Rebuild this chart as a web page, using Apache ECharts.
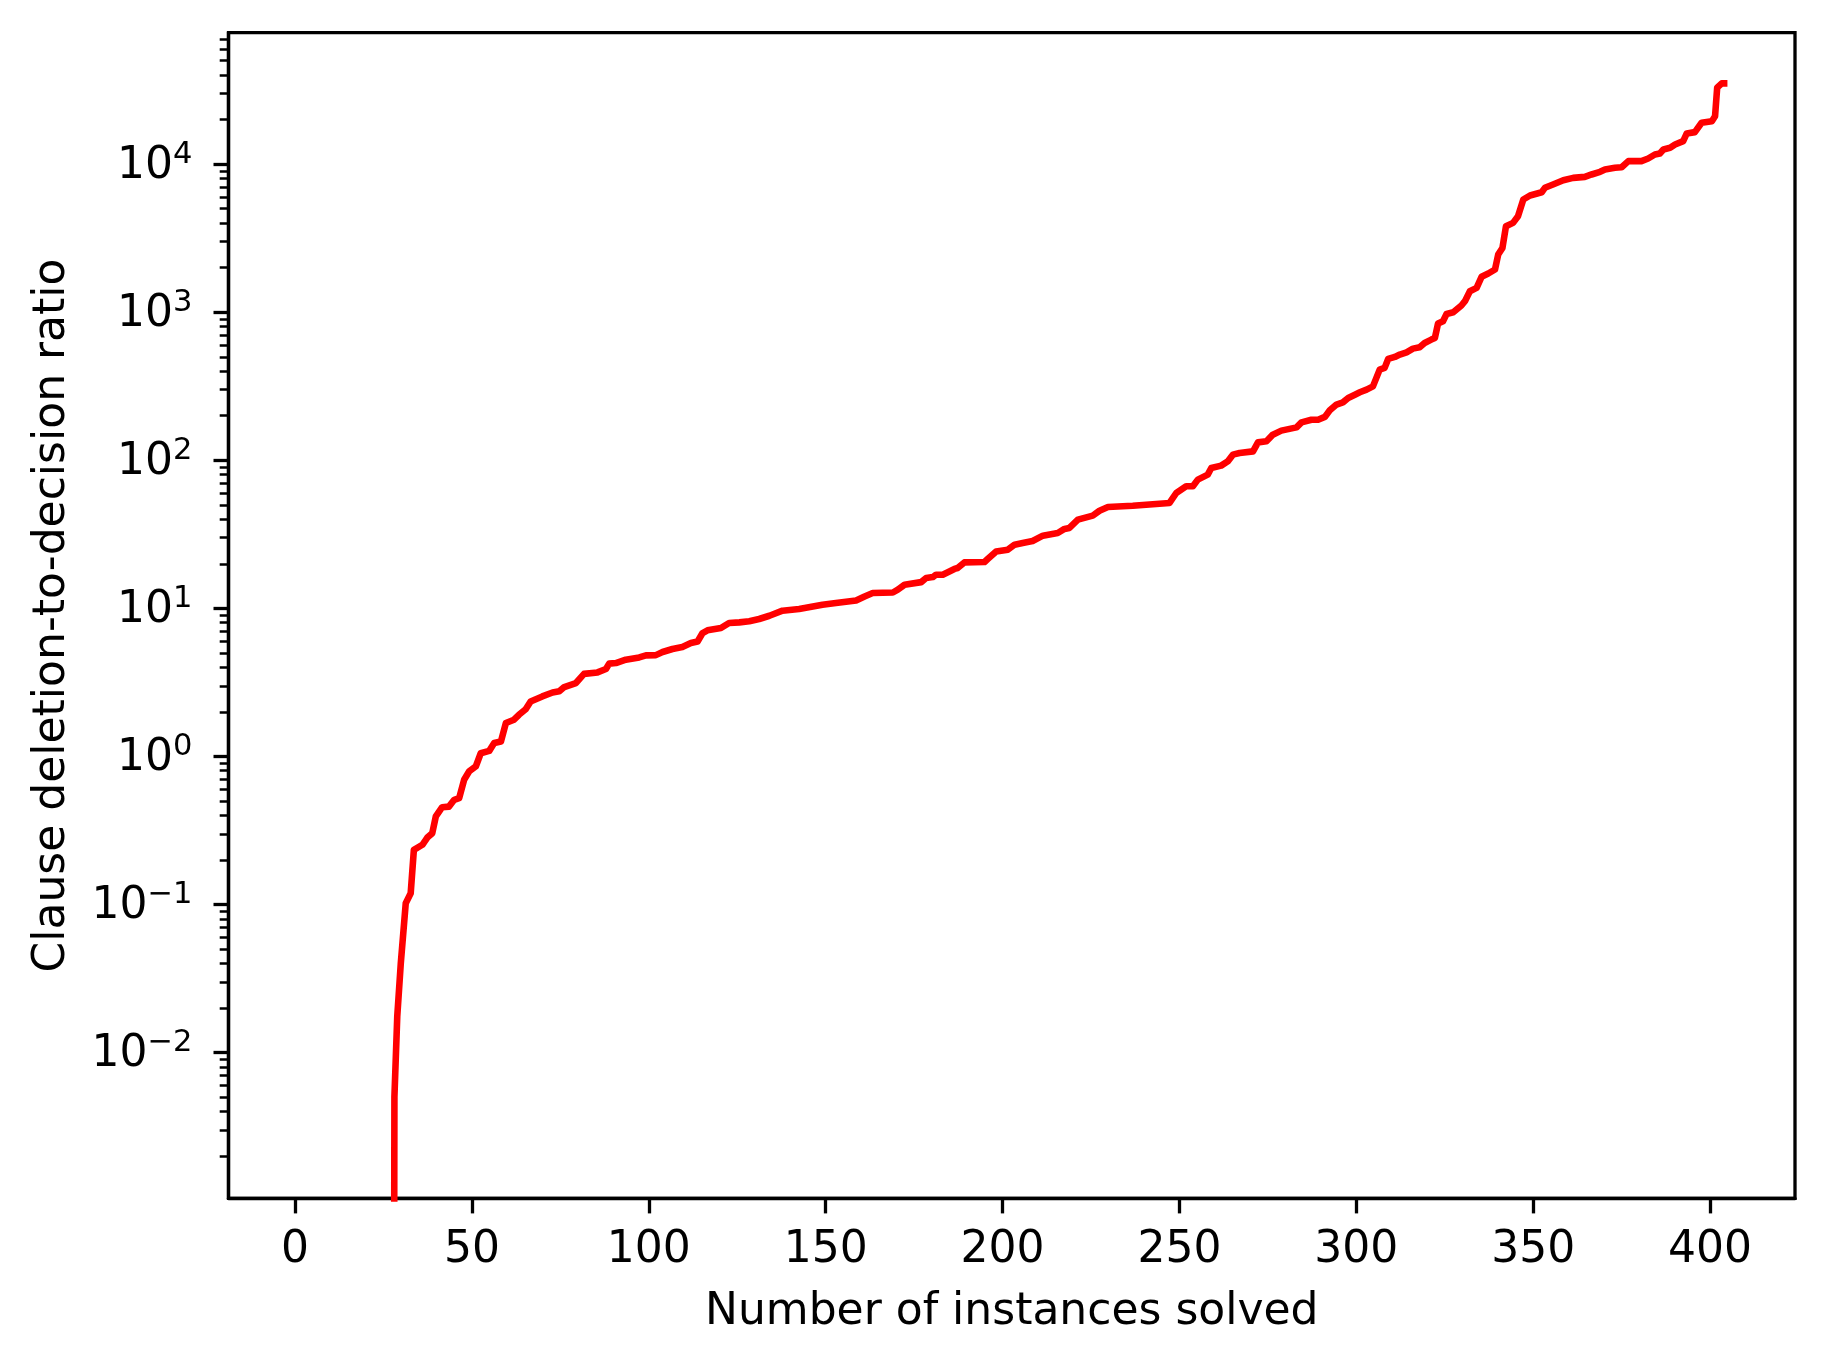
<!DOCTYPE html>
<html>
<head>
<meta charset="utf-8">
<script src="https://cdn.jsdelivr.net/npm/echarts@6/dist/echarts.min.js"></script>
<style>
  html, body { margin: 0; padding: 0; background: #fff; }
  #ratio_chart { width: 1828px; height: 1365px; }
</style>
</head>
<body>
<div id="ratio_chart"></div>
<script>
// instances solved (x) and clause deletion-to-decision ratio (y)
var instancesSolved = [
  28.0, 28.1, 28.9, 29.9, 31.3, 32.7, 33.6, 36.0, 37.4, 38.8, 39.8, 41.6, 43.5, 45.0, 46.4,
  47.8, 49.2, 51.1, 52.5, 54.9, 56.3, 58.2, 59.6, 61.9, 63.3, 65.2, 66.6, 67.1, 69.9, 72.8,
  74.7, 76.1, 79.4, 81.7, 85.5, 87.9, 88.8, 90.7, 93.5, 97.3, 99.2, 102.0, 103.9, 106.7, 109.5,
  111.9, 113.8, 115.2, 116.6, 120.4, 122.7, 125.6, 128.4, 131.2, 134.1, 137.8, 142.5, 149.1, 152.9,
  158.6, 161.0, 163.3, 169.0, 170.4, 172.3, 177.0, 178.4, 180.3, 181.2, 183.1, 186.4, 187.3, 189.2,
  194.9, 195.8, 198.2, 201.5, 203.4, 205.7, 208.5, 211.4, 215.6, 217.5, 218.9, 221.3, 225.5, 227.4,
  229.8, 236.8, 247.2, 249.1, 251.9, 253.8, 255.2, 258.0, 259.0, 261.8, 263.7, 265.1, 267.0, 270.8,
  272.2, 274.6, 276.4, 278.8, 283.1, 284.5, 287.3, 289.2, 291.1, 292.5, 294.4, 296.2, 297.7, 299.6,
  301.0, 302.9, 304.7, 306.6, 308.0, 309.0, 310.9, 312.3, 314.2, 316.0, 317.9, 319.3, 321.2, 322.2,
  323.1, 324.5, 325.5, 327.4, 329.7, 330.7, 332.1, 334.0, 335.4, 337.3, 339.2, 340.1, 341.3, 342.3,
  344.3, 345.7, 347.2, 349.1, 352.4, 353.3, 355.6, 358.5, 361.3, 364.6, 366.5, 368.9, 370.3, 373.1,
  375.0, 376.9, 380.6, 382.5, 384.4, 385.8, 386.8, 388.7, 390.1, 392.4, 393.4, 395.7, 397.6, 400.5,
  401.4, 402.0, 403.3, 404.9
];
var deletionRatio = [
  0.0002, 0.005, 0.0175, 0.040, 0.102, 0.119, 0.234, 0.253, 0.283, 0.303, 0.393, 0.454, 0.458, 0.509, 0.522,
  0.695, 0.791, 0.855, 1.05, 1.09, 1.23, 1.26, 1.68, 1.77, 1.91, 2.08, 2.35, 2.41, 2.54, 2.70,
  2.75, 2.94, 3.13, 3.61, 3.69, 3.89, 4.23, 4.27, 4.50, 4.66, 4.81, 4.83, 5.07, 5.31, 5.48,
  5.83, 5.97, 6.81, 7.10, 7.36, 7.96, 8.04, 8.17, 8.47, 8.91, 9.64, 9.89, 10.57, 10.86,
  11.30, 12.02, 12.68, 12.79, 13.37, 14.42, 15.03, 16.03, 16.26, 16.87, 16.87, 18.45, 18.71, 20.42,
  20.56, 21.53, 24.21, 24.89, 26.92, 27.61, 28.51, 30.97, 32.28, 34.36, 34.91, 39.72, 42.27, 45.6,
  48.3, 49.3, 51.5, 60.1, 66.7, 66.7, 74.0, 80.0, 88.7, 92.0, 98.4, 109.1, 111.9, 114.8,
  132.1, 134.3, 148.9, 158.5, 166.7, 180.3, 187.9, 187.9, 196.3, 217.3, 237.7, 246.0, 263.6, 277.3,
  287.7, 299.9, 315.5, 409.3, 420.7, 483.1, 498.9, 517.6, 535.8, 567.5, 579.4, 619.4, 653.1, 669.9,
  837.5, 869.0, 972.9, 997.7, 1109, 1186, 1384, 1459, 1734, 1824, 1941, 2449, 2716, 3802,
  4009, 4446, 5768, 6138, 6457, 6918, 7278, 7780, 8072, 8204, 8511, 8872, 9204, 9441,
  9528, 10471, 10471, 10914, 11614, 11803, 12560, 12882, 13552, 14289, 16106, 16444, 19011, 19498,
  21086, 32810, 35075, 35075
];

var xTicks = [0, 50, 100, 150, 200, 250, 300, 350, 400];
var yMajorTicks = [0.01, 0.1, 1, 10, 100, 1000, 10000];
var yMinorTicks = [
  0.002, 0.003, 0.004, 0.005, 0.006, 0.007, 0.008, 0.009,
  0.02, 0.03, 0.04, 0.05, 0.06, 0.07, 0.08, 0.09,
  0.2, 0.3, 0.4, 0.5, 0.6, 0.7, 0.8, 0.9,
  2, 3, 4, 5, 6, 7, 8, 9,
  20, 30, 40, 50, 60, 70, 80, 90,
  200, 300, 400, 500, 600, 700, 800, 900,
  2000, 3000, 4000, 5000, 6000, 7000, 8000, 9000,
  20000, 30000, 40000, 50000, 60000, 70000
];

var FONT = 'DejaVu Sans';
var yMin = 0.001035, yMax = 77300;

var myRatioChart = echarts.init(document.getElementById('ratio_chart'));

function supLabel(v) {
  var e = Math.round(Math.log10(v));
  var s = e < 0 ? '\u2212' + (-e) : '' + e;
  return '{base|10}{sup|' + s + '}';
}

function getRatioOption() {
  var seriesData = [];
  for (var i = 0; i < instancesSolved.length; i++) {
    seriesData.push([instancesSolved[i], deletionRatio[i]]);
  }
  var option = {
    backgroundColor: '#ffffff',
    animation: false,
    grid: {
      left: 228.5, right: 33, top: 32.6, bottom: 166.6,
      show: true,
      borderColor: '#000',
      borderWidth: 3.3,
      backgroundColor: 'transparent'
    },
    xAxis: {
      type: 'value',
      min: -18.8,
      max: 424.0,
      name: 'Number of instances solved',
      nameLocation: 'middle',
      nameGap: 92,
      nameTextStyle: { fontFamily: FONT, fontSize: 44, color: '#000' },
      splitLine: { show: false },
      axisLine: { show: true, onZero: false, lineStyle: { color: '#000', width: 3.3 } },
      axisTick: { show: true, inside: false, length: 15, lineStyle: { color: '#000', width: 3.3 }, customValues: xTicks },
      axisLabel: { fontFamily: FONT, fontSize: 44, color: '#000', margin: 30, customValues: xTicks }
    },
    yAxis: [
      {
        type: 'log',
        logBase: 10,
        min: yMin,
        max: yMax,
        position: 'left',
        name: 'Clause deletion-to-decision ratio',
        nameLocation: 'middle',
        nameGap: 154,
        nameRotate: 90,
        nameTextStyle: { fontFamily: FONT, fontSize: 44, color: '#000' },
        splitLine: { show: false },
        axisLine: { show: true, onZero: false, lineStyle: { color: '#000', width: 3.3 } },
        axisTick: { show: true, inside: false, length: 15, lineStyle: { color: '#000', width: 3.3 }, customValues: yMajorTicks },
        axisLabel: {
          margin: 36,
          customValues: yMajorTicks,
          formatter: supLabel,
          rich: {
            base: { fontFamily: FONT, fontSize: 44, color: '#000', lineHeight: 44, padding: [5, 0, 0, 0] },
            sup: { fontFamily: FONT, fontSize: 30.5, color: '#000', lineHeight: 30, padding: [0, 0, 19, 0] }
          }
        }
      },
      {
        type: 'log',
        logBase: 10,
        min: yMin,
        max: yMax,
        position: 'left',
        splitLine: { show: false },
        axisLine: { show: false, onZero: false },
        axisLabel: { show: false },
        axisTick: { show: true, inside: false, length: 8.8, lineStyle: { color: '#000', width: 2.5 }, customValues: yMinorTicks }
      }
    ],
    series: [
      {
        type: 'line',
        data: seriesData,
        showSymbol: false,
        clip: true,
        lineStyle: { color: '#ff0000', width: 6.6, join: 'round' }
      }
    ]
  };
  return option;
}

myRatioChart.setOption(getRatioOption());
</script>
</body>
</html>
